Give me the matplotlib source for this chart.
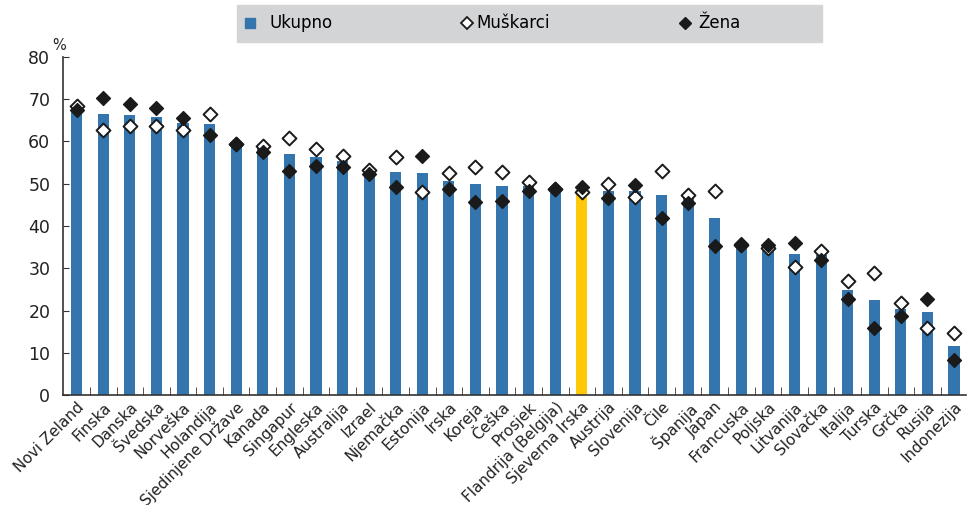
import numpy as np
import matplotlib.pyplot as plt
from matplotlib.lines import Line2D
from matplotlib.patches import Rectangle

countries = ['Novi Zeland', 'Finska', 'Danska', 'Švedska', 'Norveška', 'Holandija',
             'Sjedinjene Države', 'Kanada', 'Singapur', 'Engleska', 'Australija',
             'Izrael', 'Njemačka', 'Estonija', 'Irska', 'Koreja', 'Češka', 'Prosjek',
             'Flandrija (Belgija)', 'Sjeverna Irska', 'Austrija', 'Slovenija', 'Čile',
             'Španija', 'Japan', 'Francuska', 'Poljska', 'Litvanija', 'Slovačka',
             'Italija', 'Turska', 'Grčka', 'Rusija', 'Indonezija']
ukupno = [67.6, 66.5, 66.3, 65.8, 64.4, 64.1, 59.4, 58.5, 57.0, 56.3, 55.4,
          53.1, 52.8, 52.6, 50.7, 50.0, 49.5, 49.5, 48.8, 48.6, 48.3, 48.3, 47.4,
          46.8, 41.9, 35.5, 35.1, 33.4, 33.2, 24.9, 22.5, 20.4, 19.7, 11.7]
muskarci = [68.3, 62.6, 63.7, 63.7, 62.7, 66.5, 59.3, 59.0, 60.7, 58.1, 56.6,
            53.3, 56.3, 48.1, 52.6, 54.0, 52.8, 50.4, 48.8, 48.1, 50.0, 46.9, 53.1,
            47.4, 48.3, 35.5, 34.9, 30.4, 34.2, 26.9, 28.8, 21.7, 15.9, 14.7]
zena = [67.4, 70.2, 68.8, 67.9, 65.5, 61.6, 59.3, 57.4, 53.1, 54.2, 54.0,
        52.4, 49.2, 56.5, 48.8, 45.6, 46.0, 48.2, 48.8, 49.3, 46.7, 49.8, 41.8,
        45.5, 35.3, 35.8, 35.5, 36.1, 32.0, 22.8, 15.8, 18.8, 22.7, 8.3]
highlight = 'Sjeverna Irska'

blue = '#3575ae'
yellow = '#ffc90a'

fig = plt.figure(figsize=(9.67, 5.05), dpi=100)
ax = fig.add_axes([0.065, 0.2172, 0.934, 0.6705])

x = np.arange(len(countries))
colors = [yellow if c == highlight else blue for c in countries]
ax.bar(x, ukupno, width=0.42, color=colors, zorder=2)
ax.scatter(x, muskarci, marker='D', s=50, facecolor='white', edgecolor='#1a1a1a',
           linewidth=1.4, zorder=3)
ax.scatter(x, zena, marker='D', s=50, color='#1a1a1a', zorder=4)

ax.set_xlim(-0.52, 33.45)
ax.set_ylim(0, 80)
ax.set_yticks(range(0, 81, 10))
ax.tick_params(axis='y', direction='in', length=4, labelsize=12.5, colors='#333333',
               labelcolor='#222222', pad=9)
ax.set_xticks(x)
ax.set_xticklabels(countries, rotation=45, ha='right', va='top',
                   rotation_mode='anchor', fontsize=11, color='#222222')
ax.tick_params(axis='x', length=0, pad=3)
ax.set_xticks(x[:-1] + 0.5, minor=True)
ax.tick_params(axis='x', which='minor', direction='in', length=6, color='#333333')
for s in ['top', 'right']:
    ax.spines[s].set_visible(False)
for s in ['left', 'bottom']:
    ax.spines[s].set_color('#333333')
    ax.spines[s].set_linewidth(1.2)

fig.text(59 / 967, 1 - 46 / 505, '%', fontsize=10.5, color='#222222', ha='center', va='center')

# legend strip
fig.patches.append(Rectangle((237 / 967, 1 - 42 / 505), 585 / 967, 37 / 505,
                             transform=fig.transFigure, color='#d3d4d6', zorder=0))
handles = [Line2D([], [], marker='s', color=blue, linestyle='', markersize=7),
           Line2D([], [], marker='D', markerfacecolor='white', markeredgecolor='#1a1a1a',
                  markeredgewidth=1.3, linestyle='', markersize=6),
           Line2D([], [], marker='D', color='#1a1a1a', linestyle='', markersize=6)]
labels = ['Ukupno', 'Muškarci', 'Žena']
xs = [253, 470, 688]
pads = [0.7, 0.1, 0.3]
for h, lab, xp, tp in zip(handles, labels, xs, pads):
    fig.legend([h], [lab], loc='center left', bbox_to_anchor=(xp / 967 - 0.012, 1 - 23.5 / 505),
               frameon=False, fontsize=12, handletextpad=tp, handlelength=1.0,
               borderpad=0, borderaxespad=0)

fig.savefig('out.png', dpi=100)
